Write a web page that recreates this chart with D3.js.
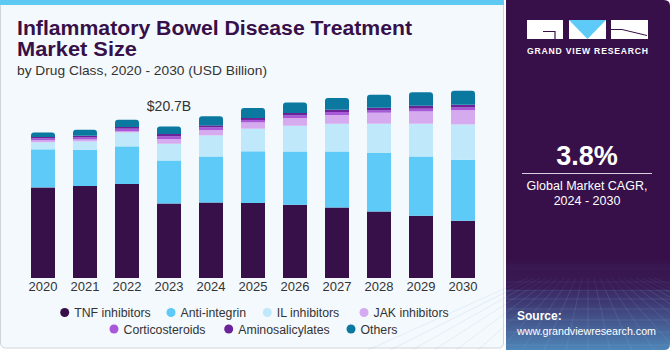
<!DOCTYPE html>
<html><head><meta charset="utf-8">
<script src="https://cdn.jsdelivr.net/npm/d3@7"></script>
<style>
html,body{margin:0;padding:0;background:#ffffff;}
svg{display:block;}
text{font-family:"Liberation Sans",Arial,sans-serif;}
</style></head>
<body>
<svg id="c" width="670" height="350"></svg>
<script>
const years = ["2020","2021","2022","2023","2024","2025","2026","2027","2028","2029","2030"];
const seriesNames = ["TNF inhibitors","Anti-integrin","IL inhibitors","JAK inhibitors","Corticosteroids","Aminosalicylates","Others"];
const tnf   = [12.38,12.57,12.84,10.19,10.33,10.25,10.01,9.64,9.10,8.51,7.83];
const anti  = [5.20,4.96,5.14,5.87,6.28,7.05,7.28,7.65,7.98,8.10,8.33];
const il    = [0.96,1.13,1.91,2.28,2.87,3.10,3.51,3.78,4.00,4.47,4.82];
const jak   = [0.27,0.27,0.14,0.64,0.74,0.86,1.05,1.19,1.50,1.68,1.95];
const cort  = [0.27,0.27,0.37,0.36,0.36,0.33,0.36,0.41,0.31,0.37,0.36];
const amino = [0.18,0.23,0.23,0.33,0.27,0.27,0.33,0.31,0.37,0.41,0.37];
const others= [0.60,0.82,1.00,1.04,1.23,1.37,1.45,1.60,1.78,1.82,1.91];
const colors = ["#371049","#5dcaf7","#bfe9fa","#d6aaee","#a858d9","#6a2399","#0b78a0"];
const annotYear = "2023", annotText = "$20.7B";
const cagrValue = "3.8%";

const svg = d3.select("#c");
const defs = svg.append("defs");

// backgrounds
svg.append("rect").attr("x",0.5).attr("y",0.5).attr("width",503).attr("height",347.5).attr("rx",5)
  .attr("fill","#f4f9fd").attr("stroke","#d0d4d8");
svg.append("rect").attr("x",0).attr("y",0).attr("width",504).attr("height",5).attr("fill","#5ec9f3");

// right panel
const g1 = defs.append("linearGradient").attr("id","pg").attr("x1",0).attr("y1",0).attr("x2",0).attr("y2",1);
g1.append("stop").attr("offset","0").attr("stop-color","#371049");
g1.append("stop").attr("offset","0.74").attr("stop-color","#371049");
g1.append("stop").attr("offset","0.86").attr("stop-color","#3d3670");
g1.append("stop").attr("offset","1").attr("stop-color","#4f86b8");
svg.append("path").attr("d","M506,0 H664 Q670,0 670,6 V344 Q670,350 664,350 H506 Z").attr("fill","url(#pg)");
const gridG = svg.append("g").attr("stroke","#8fb3dc").attr("stroke-opacity",0.25).attr("stroke-width",0.7).attr("fill","none");
const gridLinesY = [282,290,299,309,320,332,345];
gridLinesY.forEach(y=>gridG.append("line").attr("x1",506).attr("x2",670).attr("y1",y).attr("y2",y));
const gridLinesX = d3.range(-10,12);
gridLinesX.forEach(i=>gridG.append("line").attr("x1",588+i*6).attr("y1",278).attr("x2",588+i*22).attr("y2",350));
svg.append("rect").attr("x",506).attr("y",270).attr("width",164).attr("height",20).attr("fill","#371049").attr("opacity",0.5);

// logo
const lg = svg.append("g");
lg.append("rect").attr("x",527).attr("y",20).attr("width",36).attr("height",19).attr("fill","#fff");
lg.append("path").attr("d","M543,31.5 H555 V39").attr("stroke","#371049").attr("stroke-width",1.2).attr("fill","none");
lg.append("path").attr("d","M569,20 H606 V39 H569 Z").attr("fill","#fff");
lg.append("path").attr("d","M569,20 H606 L587.5,39 Z").attr("fill","#5dcaf7");
lg.append("rect").attr("x",611).attr("y",20).attr("width",37).attr("height",19).attr("fill","#fff");
lg.append("path").attr("d","M622,29.5 L647,35.5").attr("stroke","#371049").attr("stroke-width",1).attr("fill","none");
lg.append("path").attr("d","M611,29.5 H622").attr("stroke","#371049").attr("stroke-width",1).attr("fill","none");
svg.append("text").attr("x",527).attr("y",54).attr("fill","#fff")
  .attr("font-size",8.6).attr("font-weight",700).attr("textLength",121).attr("lengthAdjust","spacing").text("GRAND VIEW RESEARCH");

svg.append("text").attr("x",587).attr("y",165).attr("text-anchor","middle").attr("fill","#fff")
  .attr("font-size",27).attr("font-weight",700).text(cagrValue);
svg.append("line").attr("x1",522).attr("x2",652).attr("y1",173.5).attr("y2",173.5).attr("stroke","#d8d0de").attr("stroke-width",1);
svg.append("text").attr("x",587).attr("y",190).attr("text-anchor","middle").attr("fill","#fff").attr("font-size",12.5).text("Global Market CAGR,");
svg.append("text").attr("x",587).attr("y",205).attr("text-anchor","middle").attr("fill","#fff").attr("font-size",12.5).text("2024 - 2030");
svg.append("text").attr("x",517).attr("y",320).attr("fill","#fff").attr("font-size",12).attr("font-weight",700).text("Source:");
svg.append("text").attr("x",517).attr("y",335).attr("fill","#fff").attr("font-size",11.5)
  .attr("textLength",139).attr("lengthAdjust","spacingAndGlyphs").text("www.grandviewresearch.com");

// titles
svg.append("text").attr("x",17).attr("y",35).attr("fill","#371049").attr("font-size",20).attr("font-weight",900)
  .attr("textLength",395).attr("lengthAdjust","spacingAndGlyphs").text("Inflammatory Bowel Disease Treatment");
svg.append("text").attr("x",17).attr("y",56).attr("fill","#371049").attr("font-size",20).attr("font-weight",900)
  .attr("textLength",120).attr("lengthAdjust","spacingAndGlyphs").text("Market Size");
svg.append("text").attr("x",17).attr("y",75).attr("fill","#333").attr("font-size",13.3)
  .attr("textLength",250).attr("lengthAdjust","spacingAndGlyphs").text("by Drug Class, 2020 - 2030 (USD Billion)");

// chart
const x = d3.scaleBand().domain(years).range([22,484]).paddingInner(18/42).paddingOuter(9/42);
const y = d3.scaleLinear().domain([0,25]).range([278,95]);
const seriesArrays = [tnf,anti,il,jak,cort,amino,others];
const table = years.map((yr,i)=>{const o={year:yr}; seriesNames.forEach((s,k)=>o[s]=seriesArrays[k][i]); return o;});
const stacked = d3.stack().keys(seriesNames)(table);

const bars = svg.append("g");
stacked.forEach((layer,k)=>{
  bars.selectAll(null).data(layer).enter().append("path")
    .attr("fill",colors[k])
    .attr("d",d=>{
      const x0=x(d.data.year), w=x.bandwidth(), y0=y(d[0]), y1=y(d[1]);
      if(k===seriesNames.length-1){
        const r=3;
        return `M${x0},${y0} V${y1+r} Q${x0},${y1} ${x0+r},${y1} H${x0+w-r} Q${x0+w},${y1} ${x0+w},${y1+r} V${y0} Z`;
      }
      return `M${x0},${y0} V${y1} H${x0+w} V${y0} Z`;
    });
});

// axis labels
const xAxis = d3.axisBottom(x).tickSize(0).tickPadding(0);
const ax = svg.append("g").attr("transform","translate(0,280)").call(xAxis);
ax.select(".domain").remove();
ax.selectAll("text").attr("font-size",13).attr("fill","#333").attr("dy","0").attr("y",11)
  .style("font-family","'Liberation Sans',Arial,sans-serif");

// annotation
const tot = table.find(d=>d.year===annotYear);
const totVal = seriesNames.reduce((a,s)=>a+tot[s],0);
svg.append("text").attr("x",x(annotYear)+x.bandwidth()/2).attr("y",y(totVal)-15).attr("text-anchor","middle")
  .attr("fill","#333").attr("font-size",14).text(annotText);

// legend
const legendPos = [[64.7,312.5],[171,312.5],[267.3,312.5],[364,312.5],[114,329],[228.7,329],[351,329]];
const lgd = svg.append("g");
seriesNames.forEach((s,k)=>{
  const [cx,cy]=legendPos[k];
  lgd.append("circle").attr("cx",cx).attr("cy",cy).attr("r",4.5).attr("fill",colors[k]);
  lgd.append("text").attr("x",cx+9.5).attr("y",cy+4.5).attr("fill","#333").attr("font-size",12.3).text(s);
});
</script>
</body></html>
